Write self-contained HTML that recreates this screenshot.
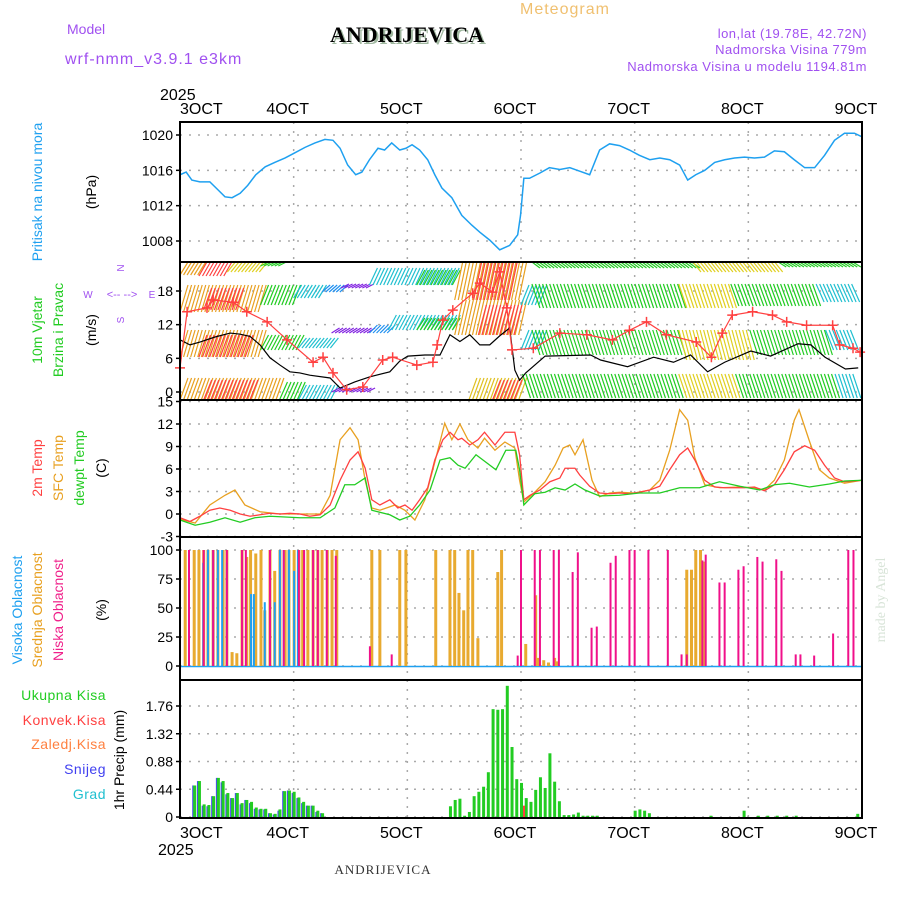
<!DOCTYPE html>
<html><head><meta charset="utf-8"><style>
html,body{margin:0;padding:0;background:#fff;}
svg{display:block;font-family:"Liberation Sans",sans-serif;}
</style></head><body>
<svg id="chart" width="900" height="900" viewBox="0 0 900 900" xmlns="http://www.w3.org/2000/svg">
<text x="520" y="14" font-size="16" fill="#f0c070" letter-spacing="1">Meteogram</text>
<text x="332" y="44" font-family="Liberation Serif,serif" font-weight="bold" font-size="22" fill="#a0b8a0">ANDRIJEVICA</text>
<text x="330" y="42" font-family="Liberation Serif,serif" font-weight="bold" font-size="22" fill="#000">ANDRIJEVICA</text>
<text x="67" y="34" font-size="14" fill="#a050f0">Model</text>
<text x="65" y="64" font-size="16" fill="#a050f0" letter-spacing="1">wrf-nmm_v3.9.1 e3km</text>
<text x="867" y="38" font-size="13" fill="#a050f0" text-anchor="end" letter-spacing="0.5">lon,lat (19.78E, 42.72N)</text>
<text x="867" y="54" font-size="13" fill="#a050f0" text-anchor="end" letter-spacing="0.5">Nadmorska Visina 779m</text>
<text x="867" y="71" font-size="13" fill="#a050f0" text-anchor="end" letter-spacing="0.5">Nadmorska Visina u modelu 1194.81m</text>
<text x="160" y="100" font-size="16">2025</text>
<text x="158" y="855" font-size="16">2025</text>
<text x="383" y="874" font-family="Liberation Serif,serif" font-size="13" fill="#333" text-anchor="middle" letter-spacing="1">ANDRIJEVICA</text>
<text transform="translate(885,600) rotate(-90)" font-size="14" fill="#d8e4d8" text-anchor="middle" font-family="Liberation Serif,serif">made by Angel</text>
<!-- y axis titles -->
<text transform="translate(42,192) rotate(-90)" font-size="14" fill="#1ea0f0" text-anchor="middle">Pritisak na nivou mora</text>
<text transform="translate(96,192) rotate(-90)" font-size="14" fill="#000" text-anchor="middle">(hPa)</text>
<text transform="translate(42,330) rotate(-90)" font-size="14" fill="#22cc22" text-anchor="middle">10m Vjetar</text>
<text transform="translate(63,330) rotate(-90)" font-size="14" fill="#22cc22" text-anchor="middle">Brzina i Pravac</text>
<text transform="translate(96,330) rotate(-90)" font-size="14" fill="#000" text-anchor="middle">(m/s)</text>
<g fill="#a050f0" font-size="10" text-anchor="middle">
<text x="124" y="268" transform="rotate(-90 124 268)">N</text>
<text x="124" y="320" transform="rotate(-90 124 320)">S</text>
<text x="88" y="298">W</text>
<text x="152" y="298">E</text>
<text x="122" y="298" font-size="11">&lt;-- --&gt;</text>
</g>
<text transform="translate(42,468) rotate(-90)" font-size="14" fill="#ff4040" text-anchor="middle">2m Temp</text>
<text transform="translate(63,468) rotate(-90)" font-size="14" fill="#e8a020" text-anchor="middle">SFC Temp</text>
<text transform="translate(84,468) rotate(-90)" font-size="14" fill="#22cc22" text-anchor="middle">dewpt Temp</text>
<text transform="translate(106,468) rotate(-90)" font-size="14" fill="#000" text-anchor="middle">(C)</text>
<text transform="translate(22,610) rotate(-90)" font-size="14" fill="#1ea0f0" text-anchor="middle">Visoka Oblacnost</text>
<text transform="translate(42,610) rotate(-90)" font-size="14" fill="#e8a020" text-anchor="middle">Srednja Oblacnost</text>
<text transform="translate(63,610) rotate(-90)" font-size="14" fill="#f0208a" text-anchor="middle">Niska Oblacnost</text>
<text transform="translate(106,610) rotate(-90)" font-size="14" fill="#000" text-anchor="middle">(%)</text>
<g font-size="14" text-anchor="end" letter-spacing="0.5">
<text x="106" y="700" fill="#22cc22">Ukupna Kisa</text>
<text x="106" y="725" fill="#ff4040">Konvek.Kisa</text>
<text x="106" y="749" fill="#ff8040">Zaledj.Kisa</text>
<text x="106" y="774" fill="#4040f0">Snijeg</text>
<text x="106" y="799" fill="#20c0d0">Grad</text>
</g>
<text transform="translate(124,760) rotate(-90)" font-size="14" fill="#000" text-anchor="middle">1hr Precip (mm)</text>
<g id="plot"></g>
</svg>
<script>
// ---- data ----
const dayLabels = ["3OCT","4OCT","5OCT","6OCT","7OCT","8OCT","9OCT"];
const presTicks = [1008,1012,1016,1020];
const windTicks = [0,6,12,18];
const tempTicks = [-3,0,3,6,9,12,15];
const cloudTicks = [0,25,50,75,100];
const precipTicks = [0,0.44,0.88,1.32,1.76];

const presHours = [0,1.3,2.5,4.2,6.3,8,9.5,11,12.7,14.3,16,18,20,22.2,24.3,26.4,28.5,30.6,32.3,33.8,35.4,37.1,38.4,40,41.8,43.2,44.7,46.4,47.7,49,50.6,52.3,53.8,55.3,57.4,59.5,61.6,63.3,65.4,67.5,69.6,71.3,71.9,72.6,73.8,76,78,80.2,82.3,84.4,86.5,88.6,90.7,92.8,94.9,97,99.2,101.3,103.4,105.5,107.2,108.9,110.8,112.9,115,117.1,119.2,121.3,123.4,125.5,127.6,129.7,131.9,134,136.1,138.2,140.3,142.4,144];
const presVals = [1015.5,1015.8,1014.9,1014.7,1014.7,1013.8,1013,1012.9,1013.4,1014.3,1015.5,1016.4,1016.9,1017.4,1018,1018.6,1019.1,1019.5,1019.4,1018.5,1016.6,1015.5,1015.8,1017.2,1018.5,1018.3,1019.1,1018.3,1018.5,1018.9,1018.3,1017.2,1015.5,1014,1012.9,1010.9,1009.8,1009,1008.1,1007,1007.5,1008.7,1010.9,1015.1,1015.1,1015.7,1016.3,1016.1,1016.3,1015.9,1015.5,1018.3,1019,1018.8,1018.3,1017.7,1017.2,1017.4,1017.2,1016.6,1014.9,1015.5,1016,1016.9,1017.2,1017.4,1017.5,1017.4,1017.5,1018.2,1018.1,1017.2,1016.3,1016.3,1017.7,1019.4,1020.2,1020.2,1019.8];

const speedHours = [0,2.1,4.2,7.4,10.6,12.7,14.8,16.9,19,21.1,23.2,25.3,27.4,31.7,33.8,36.9,40.1,44.3,46.4,48.1,51.7,54.9,57,59.1,61.2,63.3,65.4,67.5,69.6,70.7,71.7,73,77.1,86.7,88.8,94.5,100,104.2,107.8,111.4,115,120.5,124.7,130.5,133.2,136.2,140.5,143.2];
const speedVals = [9.3,8.4,8.9,9.8,10.5,10.3,9.9,8.4,6.1,4.8,3.6,3.4,3,2.5,0.7,1.8,2.7,3.6,5.5,6.4,6.6,6.6,10.2,9,10.2,8.4,8.4,10,11.4,3.9,2.1,3.4,6.4,6.6,5.7,4.5,6.2,5.3,6.6,3.6,5.3,7.3,6.4,8.6,8.4,6.2,4.1,4.3];
const gustHours = [0,1.5,5.7,7,11.2,14.1,18.4,22.6,28.1,30.2,32.3,35.2,38.6,42.8,44.9,50,53.4,54.3,55.5,57.6,61.8,63.3,66,67.5,69,70.1,74.6,80.2,85.9,91.3,94.9,98.5,102.7,109,112.2,114.5,116.6,120.9,125.1,128.1,132.3,137.8,139.3,142.1,143.6];
const gustVals = [4.3,14.3,15,16.4,16,14.3,12.5,9.3,5.3,6.2,3.4,0.4,0.9,5.7,6.2,4.8,5.3,8.4,12.8,14.6,17.6,19.4,17.8,21.4,15,7.5,7.8,10.5,10.2,9.3,11,12.5,10.2,8.9,6.2,10.5,13.7,14.3,13.7,12.5,11.9,11.9,8.4,7.8,7.1];

const tHours = [0,2.1,4.2,6.3,8.4,10.6,12.7,14.8,16.9,19,21.1,23.2,25.3,27.4,29.6,31.7,33.8,35.9,37.6,39.1,40.5,42.2,44.3,46,47.5,49,50.6,52.3,53.8,55.5,57,58.7,59.5,61.2,62.9,64.3,66.5,68.6,70.7,71.7,72.6,73.9,76,78.1,80.2,81.3,83.4,84.4,86.5,88.6,90.7,92.8,94.9,97,99.2,101.3,103.4,105.5,107.2,108.7,110.8,112.9,115,117.1,119.2,121.3,123.4,125.5,127.6,129.7,131.9,134,136.1,138.2,140.3,142.4,144];
const t2mVals = [-0.5,-1,-0.3,0.5,0.8,0.5,0,-0.3,-0.1,0.1,0,0.1,0,-0.3,-0.1,1.2,4.5,7.2,8.3,6.1,1.9,1.2,1.9,0.8,1.2,0.5,1.9,3.5,7.2,9.9,10.9,9.9,10.1,9.2,9.9,10.9,9.2,10.9,10.9,7.9,1.9,2.5,3.2,4.3,4.8,6.1,6.1,5.2,3.7,2.8,2.7,2.8,2.7,2.9,3.2,3.7,5.9,7.9,8.8,7.2,4.5,3.6,3.5,3.5,3.5,3.6,3.1,3.9,5.9,8.3,9.1,8.5,6.5,4.8,4.3,4.4,4.5];
const sfcHours = [0,3.2,6.3,9.5,11.6,13.7,16.9,21.1,25.3,29.6,31.7,33.8,35.9,37.6,39.1,40.5,42.2,45.4,47.5,49.6,51.7,53.8,55.9,57.4,59.1,60.8,62.9,64.3,66.5,68.6,70.7,71.7,72.6,74.9,77.1,79.2,80.9,82.3,83.4,85.1,87,88.6,90.7,92.8,96,99.2,101.3,103.4,105.5,107.2,108.7,110.8,114,118.2,121.3,123.4,125.5,127.6,129.7,130.7,132.8,135,137.1,140.3,144];
const sfcVals = [-0.7,-1.2,1.2,2.5,3.2,1.2,0.3,0,0,0,2.5,9.9,11.5,9.9,4.5,0.8,0.5,1.2,0.5,-0.8,1.9,6.9,12.1,9.9,12,9.9,8.8,10.1,8.5,9.6,8.8,4.5,1.6,2.9,4.3,6.5,8.8,9.2,7.9,9.9,4.5,2.3,2.8,2.9,2.8,3.2,4.5,8.5,13.9,12.5,7.5,3.9,3.5,3.6,3.5,3.2,4.5,7.2,12.5,13.9,9.9,5.9,4.8,4.1,4.5];
const dewHours = [0,3.2,6.3,9.5,12.7,15.8,19,22.2,25.3,29.6,32.7,34.8,36.9,39.1,40.5,44.3,46.4,48.5,50.6,52.8,54.9,57,58.7,60.2,62.5,64.6,66.7,68.8,70.9,71.7,72.6,74.9,77.1,79.2,81.3,83.4,85.5,88.6,92.8,97,101.3,105.5,109.7,113.9,118.2,122.4,125.5,128.7,132.9,137.1,140.3,144];
const dewVals = [-0.8,-1.5,-1.1,-0.5,-1.1,-0.5,-0.3,-0.4,-0.5,-0.5,0.8,3.9,3.9,4.8,0.5,-0.1,-0.8,-0.3,1.2,3.2,7.2,7.5,6.5,6.1,7.9,6.9,5.9,8.5,8.5,5.9,1.2,2.7,2.9,3.5,3.2,4,3.2,2.4,2.5,2.8,2.8,3.5,3.5,4.3,3.7,3.2,3.9,4.1,3.6,4,4.4,4.5];

const highCloudHours = [4.9,5.9,7,8,8.9,9.9,15,15.6,17.9,19,20,21.1,21.9,23,24.1,24.9];
const highCloudVals = [89,100,100,100,100,89,62,62,55,62,55,100,100,100,82,100];
const midCloudHours = [1.1,3,4,5,5.9,7,8,9.1,9.9,11,12,13.1,14.1,14.9,16,17.1,17.9,19,20,21.1,22.2,23,24.1,25.1,25.9,27,28.1,29.1,30,31.1,32.1,33.1,40.5,42.2,46.4,47.7,54,57,58,58.9,59.9,60.8,61.8,62.9,67.1,67.9,73,75.1,75.7,76.8,77.8,79.1,79.7,107,108,108.9,109.9,110.8];
const midCloudVals = [100,100,100,100,100,100,100,100,100,12,11,100,94,100,97,100,48,100,82,100,100,100,100,100,100,100,100,100,100,100,100,100,100,100,100,100,100,100,100,63,48,100,100,24,81,100,19,61,7,5,3,7,4,83,83,100,100,90];
const lowCloudHours = [1.9,5,7,9.9,13.1,13.9,19,21.9,25.1,26.2,28.1,29.1,31,32.9,40.1,44.7,71.3,72,74.9,76,78.9,80,82.9,84,86.9,88,90.9,92,94.9,96,98.9,103,105.9,107,110.3,111,113.9,115,117.9,119,121.9,123,125.9,127,130,131,133.9,137.9,141.1,142.2];
const lowCloudVals = [100,100,100,100,100,100,100,100,100,100,100,100,100,95,17,10,9,100,100,100,100,100,81,98,33,34,89,95,100,100,100,100,10,10,91,96,72,72,83,86,94,90,92,82,10,10,9,28,100,100];

const rainHours = [3,4,5,6,7,8,9,10,11,12,13,14,15,16,17,18,19,20,21,22,23,24,25,26,27,28,29,30,
 57,58,59,60,61,62,63,64,65,66,67,68,69,70,71,72,73,74,75,76,77,78,79,80,81,82,83,84,85,86,87,88,
 96,97,98,99,112,119,122,124,126,128,130,143];
const rainVals = [0.5,0.57,0.2,0.19,0.33,0.62,0.57,0.38,0.3,0.38,0.22,0.27,0.24,0.15,0.13,0.13,0.06,0.05,0.12,0.41,0.42,0.4,0.31,0.24,0.18,0.18,0.1,0.06,
 0.17,0.27,0.29,0.02,0.08,0.33,0.4,0.48,0.71,1.71,1.7,1.71,2.08,1.11,0.6,0.54,0.3,0.24,0.43,0.63,0.46,1.01,0.56,0.25,0.03,0.03,0.04,0.07,0.02,0.02,0.02,0.02,
 0.1,0.12,0.1,0.06,0.02,0.1,0.02,0.02,0.02,0.02,0.02,0.05];
const snowHours = [3,4,5,6,7,8,9,10,11,12,13,14,15,16,17,18,19,20,21,22,23,24,25,26,27,28,29,30];
const snowVals = [0.5,0.57,0.18,0.17,0.33,0.62,0.55,0.36,0.3,0.38,0.2,0.27,0.22,0.13,0.12,0.12,0.06,0.04,0.1,0.41,0.42,0.38,0.3,0.22,0.18,0.18,0.08,0.06];
const convHours = [72];
const convVals = [0.18];

// wind barbs: rows of [startHour, endHour, color, yTop, yBot, slant]
const windRow1 = [[0,21,"#e8a020",378,400,1],[5,15,"#ff4040",380,400,1],[21,25,"#22cc22",382,400,1],[25,32,"#20c0d0",385,400,1],[32,40,"#8020e0",388,392,1],[61,72,"#e0c020",378,400,1],[66,71,"#ff4040",380,400,1],[74,107,"#22cc22",374,398,-1],[107,119,"#e0d020",374,398,-1],[119,140,"#22cc22",374,398,-1],[140,144,"#20c0d0",374,398,-1]];
const windRow2 = [[0,17,"#e8a020",330,357,1],[4,14,"#ff4040",335,357,1],[17,25,"#22cc22",335,350,1],[25,32,"#20c0d0",338,348,1],[32,40,"#8020e0",328,333,1],[40,44,"#2090f0",325,333,1],[44,58,"#20c0d0",315,330,1],[50,58,"#22cc22",318,330,1],[58,72,"#e8a020",300,335,1],[63,71,"#ff4040",305,335,1],[72,76,"#20c0d0",330,350,1],[76,107,"#22cc22",330,355,-1],[107,122,"#e0d020",330,360,-1],[122,138,"#22cc22",330,355,-1],[138,144,"#20c0d0",330,350,-1]];
const windRow3 = [[0,17,"#e8a020",285,312,1],[5,12,"#ff4040",288,310,1],[17,24,"#22cc22",285,305,1],[24,30,"#20c0d0",285,298,1],[30,34,"#2090f0",285,292,1],[34,40,"#8020e0",284,288,1],[40,58,"#20c0d0",268,285,1],[50,58,"#22cc22",270,285,1],[58,72,"#e8a020",262,300,1],[62,70,"#ff4040",262,300,1],[72,76,"#20c0d0",285,305,1],[76,107,"#22cc22",284,308,-1],[107,118,"#e0d020",284,308,-1],[118,136,"#22cc22",284,306,-1],[136,144,"#20c0d0",284,302,-1]];
const windRow4 = [[0,4,"#e8a020",262,275,1],[4,10,"#ff4040",262,276,1],[10,17,"#e0d020",262,272,1],[17,21,"#22cc22",262,266,1],[76,110,"#22cc22",262,268,-1],[110,128,"#e0d020",262,272,-1],[128,144,"#22cc22",262,267,-1]];

// ---- scales ----
const X0=180, X1=862, HOURS=144;
const xs = h => X0 + h*(X1-X0)/HOURS;
const yP = p => 135 + (1020-p)*(106/12);
const yW = v => 392 - v*(101/18);
const yT = t => 514 - t*7.5;
const yC = c => 666 - c*1.16;
const yR = v => 817 - v*(111/1.76);
const panels = [[122,262],[262,400],[400,537],[537,680],[680,818]];

const NS="http://www.w3.org/2000/svg";
const plot=document.getElementById('plot');
function mk(tag, attrs, parent){const e=document.createElementNS(NS,tag);for(const k in attrs)e.setAttribute(k,attrs[k]);(parent||plot).appendChild(e);return e;}

// grid
const grid=mk('g',{stroke:'#aaa','stroke-width':1.5,'stroke-dasharray':'2,7'});


for(let d=1;d<dayLabels.length-1;d++){const l=mk('line',{x1:xs(d*24),x2:xs(d*24),y1:122,y2:818},grid);

}
function hgrid(ticks,fy,name,fmt){
 ticks.forEach(t=>{const y=fy(t);
  const l=mk('line',{x1:X0,x2:X1,y1:y,y2:y},grid);
  
  
  const tx=mk('text',{x:173,y:y+5,'font-size':14,'text-anchor':'end',fill:'#000'});
  tx.textContent=fmt?fmt(t):t;
  
  
  const tk=mk('line',{x1:X0-4,x2:X0,y1:y,y2:y,stroke:'#000','stroke-width':1.5});
  
  
 });
}
hgrid(presTicks,yP,'pressure');
hgrid(windTicks,yW,'wind');
hgrid(tempTicks,yT,'temp');
hgrid(cloudTicks,yC,'cloud');
hgrid(precipTicks,yR,'precip');

// day labels
dayLabels.forEach((d,i)=>{
 const x=xs(i*24);
 const a=mk('text',{x:x-6+(i==0?6:0),y:114,'font-size':16,'text-anchor':i==0?'start':'middle'});a.textContent=d;
 
 
 const b=mk('text',{x:x-6+(i==0?6:0),y:838,'font-size':16,'text-anchor':i==0?'start':'middle'});b.textContent=d;
 
 
});

// wind barbs
function drawRow(row,name){
 const g=mk('g',{'stroke-width':1.2,fill:'none'});
 
 
 row.forEach(s=>{
  for(let h=s[0];h<s[1];h+=0.75){
   const x=xs(h);const dx=8*s[5];
   const l=mk('line',{x1:x,y1:s[4],x2:x+dx,y2:s[3],stroke:s[2]},g);
   
   
  }
 });
}
drawRow(windRow1,'wind-row-1');drawRow(windRow2,'wind-row-2');drawRow(windRow3,'wind-row-3');drawRow(windRow4,'wind-row-4');

// lines
function line(hs,vs,fy,color,name,w){
 const p=mk('polyline',{points:hs.map((h,i)=>xs(h)+','+fy(vs[i])).join(' '),fill:'none',stroke:color,'stroke-width':w||1.3});
 
 
 return p;
}
line(presHours,presVals,yP,'#1ea0f0','pressure-line',1.5);
line(speedHours,speedVals,yW,'#000','wind-speed-line',1.2);
line(gustHours,gustVals,yW,'#ff4040','wind-gust-line',1.2);
gustHours.forEach((h,i)=>{const x=xs(h),y=yW(gustVals[i]);
 const m=mk('path',{d:`M${x-5},${y}H${x+5}M${x},${y-5}V${y+5}`,stroke:'#ff4040','stroke-width':1.5});
 
 });
line(sfcHours,sfcVals,yT,'#e8a020','sfc-temp-line',1.3);
line(tHours,t2mVals,yT,'#ff4040','t2m-line',1.3);
line(dewHours,dewVals,yT,'#22cc22','dewpoint-line',1.3);

// cloud bars
function bars(hs,vs,fy,color,name,w,off){
 hs.forEach((h,i)=>{const y=fy(vs[i]),y0=fy(0);
  const r=mk('rect',{x:xs(h)+off,y:y,width:w,height:Math.max(0,y0-y),fill:color});
  
  });
}
const base=mk('line',{x1:X0,x2:X1,y1:yC(0)+0.5,y2:yC(0)+0.5,stroke:'#1ea0f0','stroke-width':1.5});


bars(midCloudHours,midCloudVals,yC,'#e8aa30','mid-cloud-bar',3,-1.5);
bars(highCloudHours,highCloudVals,yC,'#1ea0f0','high-cloud-bar',2,-1);
bars(lowCloudHours,lowCloudVals,yC,'#f0108a','low-cloud-bar',2,-1);

// precip bars
bars(snowHours,snowVals,yR,'#4a4af0','snow-bar',2,-2);
bars(rainHours,rainVals,yR,'#22cc22','rain-bar',3,-1);
bars(convHours,convVals,yR,'#ff4040','convective-bar',2,2);

// panel frames
panels.forEach((p,i)=>{
 const r=mk('rect',{x:X0,y:p[0],width:X1-X0,height:p[1]-p[0],fill:'none',stroke:'#000','stroke-width':2});
 
 
});
</script>
</body></html>
